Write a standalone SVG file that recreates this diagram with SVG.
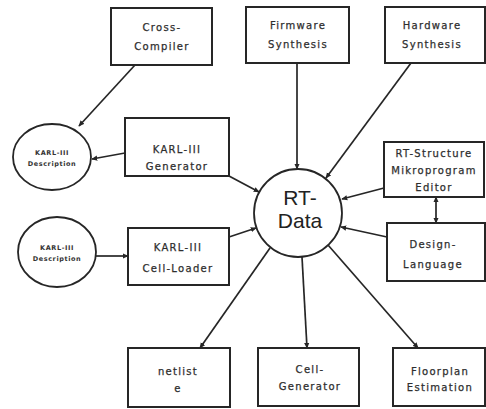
<svg xmlns="http://www.w3.org/2000/svg" width="486" height="409" viewBox="0 0 486 409">
  <style>
    .box { fill: #fff; stroke: #262626; stroke-width: 2; }
    .ring { fill: #fff; stroke: #262626; stroke-width: 1.8; }
    .lbl { font-family: "DejaVu Sans", "Liberation Sans", sans-serif; font-size: 10px; letter-spacing: 1.3px; fill: #2e2e2e; text-anchor: middle; font-weight: normal; stroke: #2e2e2e; stroke-width: 0.25; }
    .small { font-family: "DejaVu Sans", "Liberation Sans", sans-serif; font-size: 6.5px; letter-spacing: 0.6px; fill: #333; text-anchor: middle; font-weight: bold; }
    .big { font-family: "Liberation Sans", Arial, sans-serif; font-size: 21px; fill: #222; text-anchor: middle; }
    .wire { stroke: #262626; stroke-width: 1.7; fill: none; }
  </style>
  <defs>
    <marker id="arr" viewBox="0 0 8 8" refX="7" refY="4" markerWidth="6" markerHeight="6" markerUnits="userSpaceOnUse" orient="auto-start-reverse">
      <path d="M0,0.5 L8,4 L0,7.5 z" fill="#262626"/>
    </marker>
  </defs>
  <rect width="486" height="409" fill="#fff"/>

  <!-- connectors -->
  <g id="connectors">
    <line class="wire" x1="135" y1="65" x2="79" y2="126" marker-end="url(#arr)"/>
    <line class="wire" x1="125" y1="153" x2="92" y2="159" marker-end="url(#arr)"/>
    <line class="wire" x1="229" y1="176" x2="259" y2="192" marker-end="url(#arr)"/>
    <line class="wire" x1="96" y1="256" x2="128" y2="256" marker-end="url(#arr)"/>
    <line class="wire" x1="229" y1="237" x2="256" y2="228" marker-end="url(#arr)"/>
    <line class="wire" x1="297" y1="63" x2="297" y2="169" marker-end="url(#arr)"/>
    <line class="wire" x1="411" y1="63" x2="326" y2="178" marker-end="url(#arr)"/>
    <line class="wire" x1="384" y1="188" x2="342" y2="199" marker-end="url(#arr)"/>
    <line class="wire" x1="436" y1="197" x2="436" y2="223" marker-start="url(#arr)" marker-end="url(#arr)"/>
    <line class="wire" x1="387" y1="237" x2="341" y2="227" marker-end="url(#arr)"/>
    <line class="wire" x1="270" y1="248" x2="200" y2="348" marker-end="url(#arr)"/>
    <line class="wire" x1="302" y1="257" x2="307" y2="348" marker-end="url(#arr)"/>
    <line class="wire" x1="328" y1="245" x2="418" y2="348" marker-end="url(#arr)"/>
  </g>

  <!-- nodes -->
  <g id="cross-compiler">
    <rect class="box" x="111" y="8" width="101" height="57"/>
    <text class="lbl" x="162" y="31">Cross-</text>
    <text class="lbl" x="162" y="50">Compiler</text>
  </g>
  <g id="firmware-synthesis">
    <rect class="box" x="246" y="7" width="103" height="56"/>
    <text class="lbl" x="298" y="29">Firmware</text>
    <text class="lbl" x="298" y="48">Synthesis</text>
  </g>
  <g id="hardware-synthesis">
    <rect class="box" x="385" y="7" width="100" height="56"/>
    <text class="lbl" x="432" y="29">Hardware</text>
    <text class="lbl" x="432" y="48">Synthesis</text>
  </g>
  <g id="karl-description-1">
    <ellipse class="ring" cx="52" cy="157" rx="39" ry="33"/>
    <text class="small" x="52" y="155">KARL-III</text>
    <text class="small" x="52" y="166">Description</text>
  </g>
  <g id="karl-generator">
    <rect class="box" x="125" y="118" width="104" height="58"/>
    <text class="lbl" x="177" y="153">KARL-III</text>
    <text class="lbl" x="177" y="170">Generator</text>
  </g>
  <g id="karl-description-2">
    <ellipse class="ring" cx="57" cy="252" rx="39" ry="35"/>
    <text class="small" x="57" y="250">KARL-III</text>
    <text class="small" x="57" y="261">Description</text>
  </g>
  <g id="karl-cell-loader">
    <rect class="box" x="128" y="228" width="101" height="57"/>
    <text class="lbl" x="178" y="251">KARL-III</text>
    <text class="lbl" x="178" y="272">Cell-Loader</text>
  </g>
  <g id="rt-data">
    <circle class="ring" cx="298" cy="213" r="44"/>
    <text class="big" x="300" y="205">RT-</text>
    <text class="big" x="300" y="228">Data</text>
  </g>
  <g id="rt-structure-editor">
    <rect class="box" x="384" y="142" width="100" height="55"/>
    <text class="lbl" x="434" y="157" letter-spacing="0.6">RT-Structure</text>
    <text class="lbl" x="434" y="174" letter-spacing="0.6">Mikroprogram</text>
    <text class="lbl" x="434" y="191">Editor</text>
  </g>
  <g id="design-language">
    <rect class="box" x="387" y="223" width="98" height="58"/>
    <text class="lbl" x="433" y="248">Design-</text>
    <text class="lbl" x="433" y="268">Language</text>
  </g>
  <g id="netliste">
    <rect class="box" x="128" y="348" width="102" height="59"/>
    <text class="lbl" x="178" y="375">netlist</text>
    <text class="lbl" x="178" y="392">e</text>
  </g>
  <g id="cell-generator">
    <rect class="box" x="258" y="348" width="101" height="58"/>
    <text class="lbl" x="310" y="373">Cell-</text>
    <text class="lbl" x="310" y="390">Generator</text>
  </g>
  <g id="floorplan-estimation">
    <rect class="box" x="393" y="348" width="92" height="58"/>
    <text class="lbl" x="440" y="375">Floorplan</text>
    <text class="lbl" x="440" y="391">Estimation</text>
  </g>
</svg>
